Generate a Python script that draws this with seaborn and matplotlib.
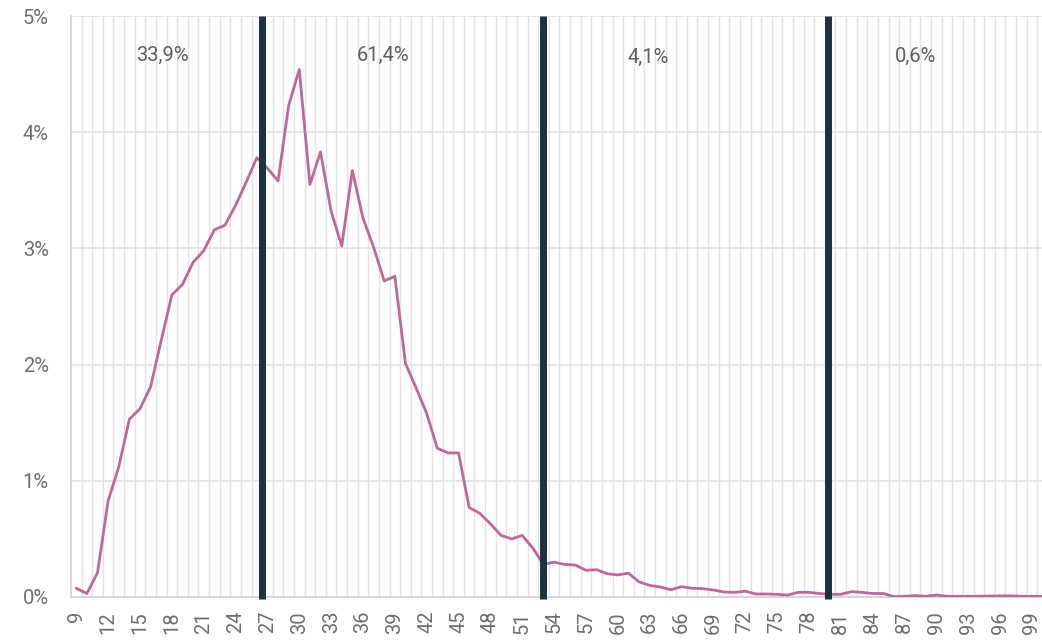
import numpy as np
import pandas as pd
import matplotlib
matplotlib.use("Agg")
import matplotlib.pyplot as plt
import seaborn as sns

ages = list(range(9, 101))
share = [0.075, 0.03, 0.21, 0.83, 1.12, 1.53, 1.62, 1.81, 2.21, 2.60,
         2.69, 2.88, 2.98, 3.16, 3.20, 3.37, 3.57, 3.78, 3.69, 3.58,
         4.23, 4.54, 3.55, 3.83, 3.32, 3.02, 3.67, 3.26, 3.01, 2.72,
         2.76, 2.01, 1.80, 1.58, 1.28, 1.24, 1.24, 0.77, 0.72, 0.63,
         0.53, 0.50, 0.53, 0.42, 0.28, 0.30, 0.28, 0.275, 0.23, 0.235,
         0.20, 0.19, 0.205, 0.13, 0.10, 0.086, 0.063, 0.089, 0.075, 0.072,
         0.06, 0.043, 0.04, 0.05, 0.026, 0.026, 0.023, 0.017, 0.04, 0.04,
         0.03, 0.023, 0.023, 0.046, 0.04, 0.03, 0.03, 0.003, 0.006, 0.012,
         0.006, 0.017, 0.006, 0.006, 0.006, 0.006, 0.008, 0.01, 0.01, 0.006,
         0.006, 0.005]
boundaries = [26.5, 53, 79.8]
group_labels = ["33,9%", "61,4%", "4,1%", "0,6%"]
label_x = [17.1, 37.9, 62.9, 88.0]
label_y = [4.66, 4.66, 4.64, 4.65]

df = pd.DataFrame({"age": ages, "share": share})

sns.set_theme(style="white")
plt.rcParams["font.family"] = ["Roboto", "DejaVu Sans"]

fig = plt.figure(figsize=(10.42, 6.43), dpi=100)
ax = fig.add_axes([71/1042, 1 - 597/643, 1 - 71/1042, (597 - 16)/643])

grid_c = "#e3e3e3"
for v in np.arange(9.5, 100, 1.0):
    ax.axvline(v, color=grid_c, lw=1.0, zorder=0)
for h in [1, 2, 3, 4, 5]:
    ax.axhline(h, color=grid_c, lw=1.2, zorder=0)

sns.lineplot(data=df, x="age", y="share", ax=ax, color="#c0679a", lw=2.0, zorder=3)

for b in boundaries:
    ax.axvline(b, ymin=-0.004, ymax=1, color="#1b333d", lw=5, zorder=4,
               clip_on=False, solid_capstyle="butt")

for t, xx, yy in zip(group_labels, label_x, label_y):
    ax.text(xx, yy, t, ha="center", va="center", fontsize=14.5, color="#5e5e5e")

ax.set_xlim(8.5, 99.95)
ax.set_ylim(0, 5)
ax.set_xticks(list(range(9, 100, 3)))
ax.set_xticklabels([str(a) for a in range(9, 100, 3)], rotation=90,
                   fontsize=14.5, color="#6e6e6e")
ax.set_yticks([0, 1, 2, 3, 4, 5])
ax.set_yticklabels([f"{v}%" for v in range(6)], fontsize=14.5, color="#6e6e6e")
ax.tick_params(axis="x", length=0, pad=10)
ax.tick_params(axis="y", length=0, pad=16)
ax.set_xlabel("")
ax.set_ylabel("")
for s in ["top", "right"]:
    ax.spines[s].set_visible(False)
for s in ["left", "bottom"]:
    ax.spines[s].set_color("#cfcfcf")
    ax.spines[s].set_linewidth(1.2)

fig.savefig("out.png", dpi=100)
